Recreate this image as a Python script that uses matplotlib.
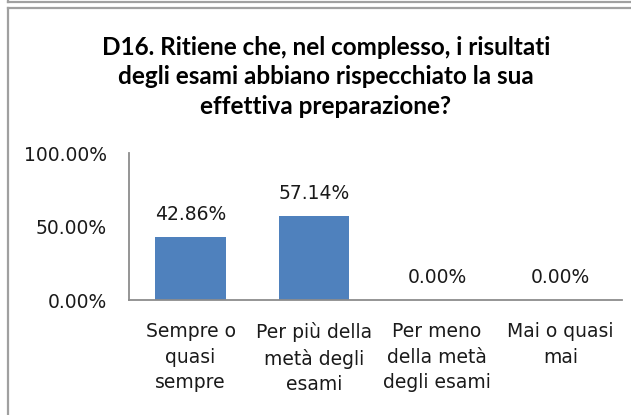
import matplotlib.pyplot as plt
from matplotlib.lines import Line2D

categories = ["Sempre o\nquasi\nsempre", "Per più della\nmetà degli\nesami",
              "Per meno\ndella metà\ndegli esami", "Mai o quasi\nmai"]
values = [42.86, 57.14, 0.00, 0.00]
yticks = [0, 50, 100]
title = ("D16. Ritiene che, nel complesso, i risultati\n"
         "degli esami abbiano rispecchiato la sua\n"
         "effettiva preparazione?")

plt.rcParams['font.family'] = ['DejaVu Sans']

W, H = 631, 415
fig = plt.figure(figsize=(W / 100, H / 100), dpi=100)
ax = fig.add_axes([129 / W, 1 - 300 / H, (622 - 129) / W, (300 - 153) / H])

x = range(len(categories))
ax.bar(x, values, width=0.57, color='#4F81BD')
for xi, v in zip(x, values):
    ax.annotate(f"{v:.2f}%", (xi, v), xytext=(0, 16.5), textcoords='offset points',
                ha='center', va='center', fontsize=13.5, color='#1a1a1a')

ax.set_xlim(-0.5, len(categories) - 0.5)
ax.set_ylim(0, 100)
ax.set_yticks(yticks)
ax.set_yticklabels([f"{t:.2f}%" for t in yticks], fontsize=13.5, color='#1a1a1a')
ax.set_xticks(list(x))
ax.set_xticklabels(categories, fontsize=13.5, color='#1a1a1a', linespacing=1.42)
ax.tick_params(length=0)
ax.tick_params(axis='y', pad=16)
ax.tick_params(axis='x', pad=16)
for s in ['top', 'right']:
    ax.spines[s].set_visible(False)
for s in ['left', 'bottom']:
    ax.spines[s].set_color('#8c8c8c')
    ax.spines[s].set_linewidth(1.3)

fig.text(326 / W, 1 - 77 / H, title, ha='center', va='center', fontsize=17.5,
         fontweight='bold', family='Lato', linespacing=1.32)

# frame lines
gray = '#a0a0a0'
fig.add_artist(Line2D([7.5 / W, 1], [1 - 1.8 / H] * 2, color=gray, lw=1.6))
fig.add_artist(Line2D([7.5 / W] * 2, [1, 1 - 1.8 / H], color=gray, lw=1.6))
fig.add_artist(Line2D([7.5 / W, 1], [1 - 8 / H] * 2, color=gray, lw=1.6))
fig.add_artist(Line2D([7.5 / W] * 2, [1 - 8 / H, 0], color=gray, lw=1.6))

fig.savefig('out.png', dpi=100)
